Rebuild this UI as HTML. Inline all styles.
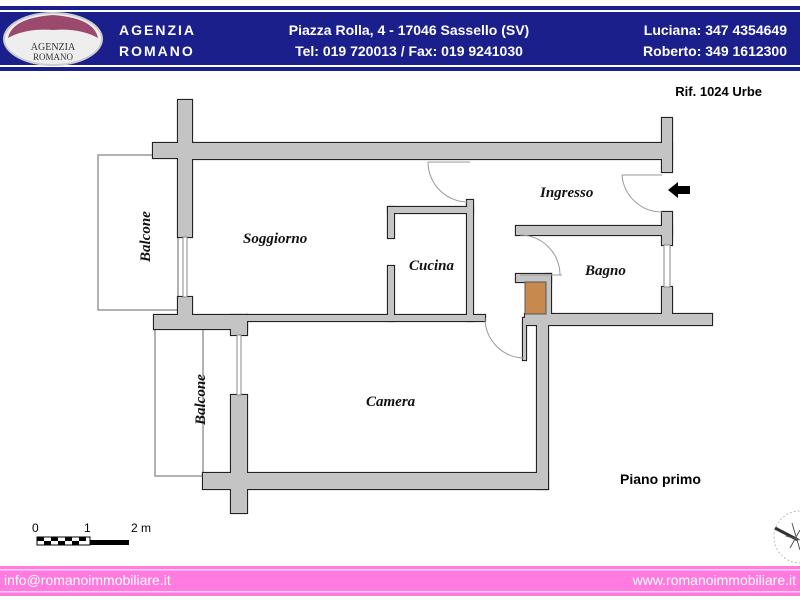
<!DOCTYPE html>
<html><head><meta charset="utf-8"><style>
html,body{margin:0;padding:0;background:#fff;width:800px;height:600px;overflow:hidden;font-family:"Liberation Sans",sans-serif}
</style></head><body>
<svg width="800" height="600" xmlns="http://www.w3.org/2000/svg" xmlns:xlink="http://www.w3.org/1999/xlink">
<!-- header -->
<rect x="0" y="6" width="800" height="65" fill="#1b1f8c"/>
<rect x="0" y="10" width="800" height="2" fill="#fff"/>
<rect x="0" y="65" width="800" height="2" fill="#fff"/>
<ellipse cx="53" cy="39" rx="49" ry="26" fill="#eee" stroke="#ccc" stroke-width="2"/>
<path d="M8 38 Q12 18 53 15 Q94 18 98 38 Q80 28 53 30 Q26 28 8 38Z" fill="#9b4a6e"/>
<text x="53" y="50" font-family="Liberation Serif" font-size="10" fill="#333" text-anchor="middle">AGENZIA</text>
<text x="53" y="60" font-family="Liberation Serif" font-size="9" fill="#333" text-anchor="middle">ROMANO</text>
<g fill="#fff" font-weight="bold" font-size="14">
<text x="119" y="35" letter-spacing="2">AGENZIA</text>
<text x="119" y="56" letter-spacing="2">ROMANO</text>
<text x="409" y="35" text-anchor="middle">Piazza Rolla, 4 - 17046 Sassello (SV)</text>
<text x="409" y="56" text-anchor="middle">Tel: 019 720013 / Fax: 019 9241030</text>
<text x="787" y="35" text-anchor="end">Luciana: 347 4354649</text>
<text x="787" y="56" text-anchor="end">Roberto: 349 1612300</text>
</g>
<text x="762" y="96" text-anchor="end" font-weight="bold" font-size="13">Rif. 1024 Urbe</text>
<!-- balconies -->
<g fill="none" stroke="#999" stroke-width="1.5">
<rect x="98" y="155" width="80" height="155"/>
<rect x="155" y="329" width="48" height="147"/>
</g>
<!-- walls -->
<defs>
<g id="walls">
<rect x="178" y="100" width="14" height="137"/>
<rect x="153" y="143" width="39" height="15"/>
<rect x="178" y="143" width="494" height="16"/>
<rect x="662" y="118" width="10" height="54"/>
<rect x="662" y="212" width="10" height="33"/>
<rect x="662" y="287" width="10" height="31"/>
<rect x="516" y="226" width="156" height="9"/>
<rect x="525" y="314" width="187" height="11"/>
<rect x="537" y="314" width="11" height="175"/>
<rect x="178" y="297" width="14" height="22"/>
<rect x="154" y="315" width="93" height="14"/>
<rect x="231" y="315" width="16" height="20"/>
<rect x="247" y="315" width="238" height="6"/>
<rect x="231" y="395" width="16" height="118"/>
<rect x="203" y="473" width="345" height="16"/>
<rect x="388" y="207" width="85" height="6"/>
<rect x="388" y="207" width="6" height="31"/>
<rect x="388" y="266" width="6" height="55"/>
<rect x="467" y="200" width="6" height="121"/>
<rect x="516" y="274" width="35" height="8"/>
<rect x="546" y="274" width="5" height="45"/>
<rect x="523" y="318" width="3" height="42"/>
</g>
</defs>
<use xlink:href="#walls" fill="#c4c4c4" stroke="#222" stroke-width="2.2"/>
<use xlink:href="#walls" fill="#c4c4c4" stroke="none"/>
<rect x="525" y="282" width="21" height="32" fill="#c8894f" stroke="#555"/>
<!-- windows -->
<g stroke="#888" fill="#fff" stroke-width="1">
<rect x="183" y="237" width="4" height="60"/>
<rect x="237" y="335" width="4" height="60"/>
<rect x="664" y="245" width="6" height="42"/>
</g>
<!-- doors -->
<g fill="none" stroke="#999" stroke-width="1">
<path d="M428 162 H470 M428 162 A40 40 0 0 0 468 202"/>
<path d="M622 175 H662 M622 175 A40 40 0 0 0 662 212"/>
<path d="M520 235 A40 40 0 0 1 560 275 M520 275 H562"/>
<path d="M485 318 A40 40 0 0 0 523 358"/>
</g>
<polygon points="668,190 678,182 678,186 690,186 690,194 678,194 678,198" fill="#000"/>
<!-- labels -->
<g font-family="Liberation Serif" font-style="italic" font-weight="bold" font-size="15" fill="#111">
<text x="243" y="243">Soggiorno</text>
<text x="409" y="270">Cucina</text>
<text x="540" y="197">Ingresso</text>
<text x="585" y="275">Bagno</text>
<text x="366" y="406">Camera</text>
<text transform="translate(150,262) rotate(-90)">Balcone</text>
<text transform="translate(205,425) rotate(-90)">Balcone</text>
</g>
<text x="620" y="484" font-weight="bold" font-size="14">Piano primo</text>
<!-- scale -->
<g font-size="12"><text x="32" y="532">0</text><text x="84" y="532">1</text><text x="131" y="532">2 m</text></g>
<rect x="37" y="537" width="53" height="8" fill="#fff" stroke="#000"/>
<g fill="#000"><rect x="37" y="537" width="7" height="4"/><rect x="51" y="537" width="7" height="4"/><rect x="65" y="537" width="7" height="4"/><rect x="79" y="537" width="7" height="4"/>
<rect x="44" y="541" width="7" height="4"/><rect x="58" y="541" width="7" height="4"/><rect x="72" y="541" width="7" height="4"/><rect x="90" y="540" width="39" height="5"/></g>
<!-- compass -->
<circle cx="800" cy="537" r="26" fill="none" stroke="#bbb" stroke-dasharray="2,2"/>
<path d="M775 528 L798 540" stroke="#333" stroke-width="3"/>
<path d="M792 523 L800 550 M786 536 L800 540 M790 548 L800 530" stroke="#555" stroke-width="1"/>
<!-- footer -->
<rect x="0" y="566" width="800" height="30" fill="#ff7be0"/>
<rect x="0" y="569" width="800" height="1.5" fill="#ffd0f4"/>
<rect x="0" y="591" width="800" height="1.5" fill="#ffd0f4"/>
<g fill="#fff" font-size="14"><text x="4" y="585">info@romanoimmobiliare.it</text>
<text x="796" y="585" text-anchor="end">www.romanoimmobiliare.it</text></g>
</svg>
</body></html>
